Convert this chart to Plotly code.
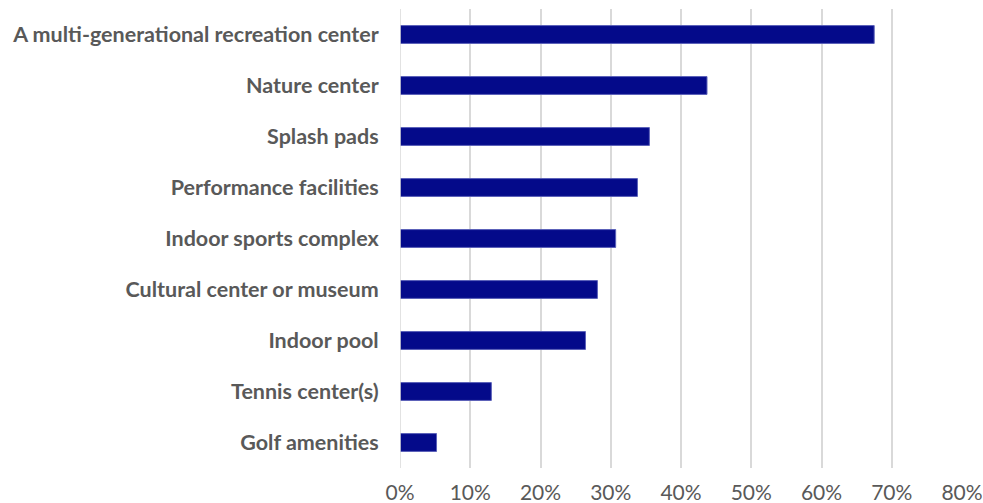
import plotly.graph_objects as go

categories = [
    "A multi-generational recreation center",
    "Nature center",
    "Splash pads",
    "Performance facilities",
    "Indoor sports complex",
    "Cultural center or museum",
    "Indoor pool",
    "Tennis center(s)",
    "Golf amenities",
]
values = [0.675, 0.437, 0.355, 0.338, 0.307, 0.281, 0.264, 0.130, 0.052]
tick_vals = [0, 0.1, 0.2, 0.3, 0.4, 0.5, 0.6, 0.7, 0.8]
tick_text = ["0%", "10%", "20%", "30%", "40%", "50%", "60%", "70%", "80%"]

fig = go.Figure(go.Bar(
    x=values,
    y=categories,
    orientation="h",
    width=0.35,
    marker=dict(color="#040A8A", line=dict(color="#5A60B8", width=1)),
))

fig.update_layout(
    width=983,
    height=503,
    margin=dict(l=400, r=21, t=9, b=35),
    paper_bgcolor="white",
    plot_bgcolor="white",
    showlegend=False,
    font=dict(family="Lato", color="#595959"),
    xaxis=dict(
        range=[0, 0.8],
        tickvals=tick_vals,
        ticktext=tick_text,
        showgrid=True,
        gridcolor="#D9D9D9",
        gridwidth=1.5,
        zeroline=False,
        showline=False,
        automargin=False,
        ticklabeloverflow="allow",
        tickfont=dict(size=21, family="Lato", color="#595959"),
        ticks="outside",
        ticklen=6,
        tickcolor="rgba(0,0,0,0)",
    ),
    yaxis=dict(
        categoryorder="array",
        categoryarray=categories[::-1],
        showgrid=False,
        zeroline=False,
        showline=False,
        automargin=False,
        tickfont=dict(size=21.5, family="Lato", color="#595959", weight="bold"),
        ticks="outside",
        ticklen=16,
        tickcolor="rgba(0,0,0,0)",
    ),
)
fig.add_shape(type="line", xref="x", yref="paper", x0=0, x1=0, y0=0, y1=1,
              line=dict(color="#D9D9D9", width=1.5))

# remove the default page margin so the 983x503 figure fills the window exactly
fig.write_html(
    "out.html",
    config={"displayModeBar": False},
    post_script="document.body.style.margin='0';document.body.style.overflow='hidden';",
)
